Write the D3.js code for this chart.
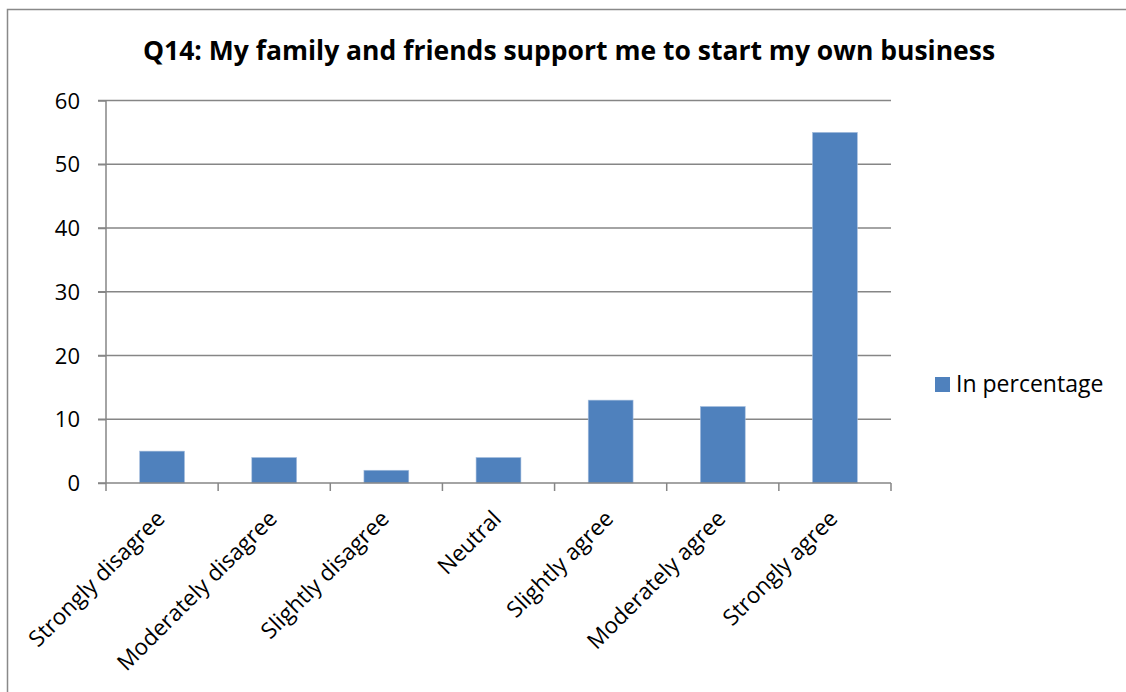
<!DOCTYPE html>
<html><head><meta charset="utf-8">
<script src="https://cdn.jsdelivr.net/npm/d3@7"></script>
<style>body{margin:0;background:#fff}svg{display:block}text{font-family:"Open Sans","Noto Sans",sans-serif;fill:#000}</style>
</head><body><svg id="c" width="1126" height="692"></svg>
<script>
const categories = ["Strongly disagree","Moderately disagree","Slightly disagree","Neutral","Slightly agree","Moderately agree","Strongly agree"];
const values = [5, 4, 2, 4, 13, 12, 55];
const yTicks = [0, 10, 20, 30, 40, 50, 60];
const seriesName = "In percentage";
const title = "Q14: My family and friends support me to start my own business";

const svg = d3.select("#c");
const W = 1126, H = 692;
const m = {left: 106, right: 891, top: 100.5, bottom: 483};
const barColor = "#4f81bd", gridColor = "#868686";

// outer frame
svg.append("rect").attr("x", 7.5).attr("y", 9.5).attr("width", W).attr("height", H)
  .attr("fill", "none").attr("stroke", "#898989").attr("stroke-width", 1.5);

const x = d3.scaleBand().domain(categories).range([m.left, m.right]).paddingInner(0.6).paddingOuter(0.3);
const xt = d3.scaleBand().domain(categories).range([m.left, m.right]);
const y = d3.scaleLinear().domain([0, 60]).range([m.bottom, m.top]);

// gridlines
svg.append("g").selectAll("line").data(yTicks.filter(d => d > 0)).join("line")
  .attr("x1", m.left - 8).attr("x2", m.right).attr("y1", d => y(d)).attr("y2", d => y(d))
  .attr("stroke", gridColor).attr("stroke-width", 1.5);

// bars
svg.append("g").selectAll("rect").data(values).join("rect")
  .attr("x", (d, i) => x(categories[i])).attr("width", x.bandwidth())
  .attr("y", d => y(d)).attr("height", d => y(0) - y(d))
  .attr("fill", barColor).attr("stroke", "#a7bfde").attr("stroke-width", 0.6);

// y axis
const yAxis = d3.axisLeft(y).tickValues(yTicks).tickSize(8).tickPadding(10).tickFormat(d3.format("d"));
const gy = svg.append("g").attr("transform", `translate(${m.left},0)`).call(yAxis);
gy.select(".domain").attr("stroke", gridColor).attr("stroke-width", 1.5).attr("d", `M0,${m.top}V${m.bottom}`);
gy.selectAll(".tick line").attr("stroke", gridColor).attr("stroke-width", 1.5);
gy.selectAll(".tick text").attr("font-size", 22).attr("fill", "#000").attr("dy", "0.35em").attr("x", -26)
  .style("font-family", '"Open Sans",sans-serif');

// x axis
const gx = svg.append("g").attr("transform", `translate(0,${m.bottom})`);
gx.append("line").attr("x1", m.left - 8).attr("x2", m.right).attr("stroke", gridColor).attr("stroke-width", 1.5);
const bounds = categories.map(c => xt(c)).concat([m.right]);
gx.selectAll(".tk").data(bounds).join("line").attr("class", "tk")
  .attr("x1", d => d).attr("x2", d => d).attr("y1", 0).attr("y2", 8)
  .attr("stroke", gridColor).attr("stroke-width", 1.5);
gx.selectAll(".lbl").data(categories).join("text").attr("class", "lbl")
  .attr("transform", d => `translate(${xt(d) + xt.bandwidth() / 2 - 7},${26}) rotate(-45)`)
  .attr("text-anchor", "end").attr("font-size", 22.5).attr("dy", "0.7em").text(d => d);

// title
svg.append("text").attr("x", 569).attr("y", 60).attr("text-anchor", "middle")
  .attr("font-size", 26.5).attr("font-weight", "bold").text(title);

// legend
svg.append("rect").attr("x", 935).attr("y", 377).attr("width", 15).attr("height", 15).attr("fill", barColor);
svg.append("text").attr("x", 956).attr("y", 392).attr("font-size", 23).text(seriesName);
</script></body></html>
